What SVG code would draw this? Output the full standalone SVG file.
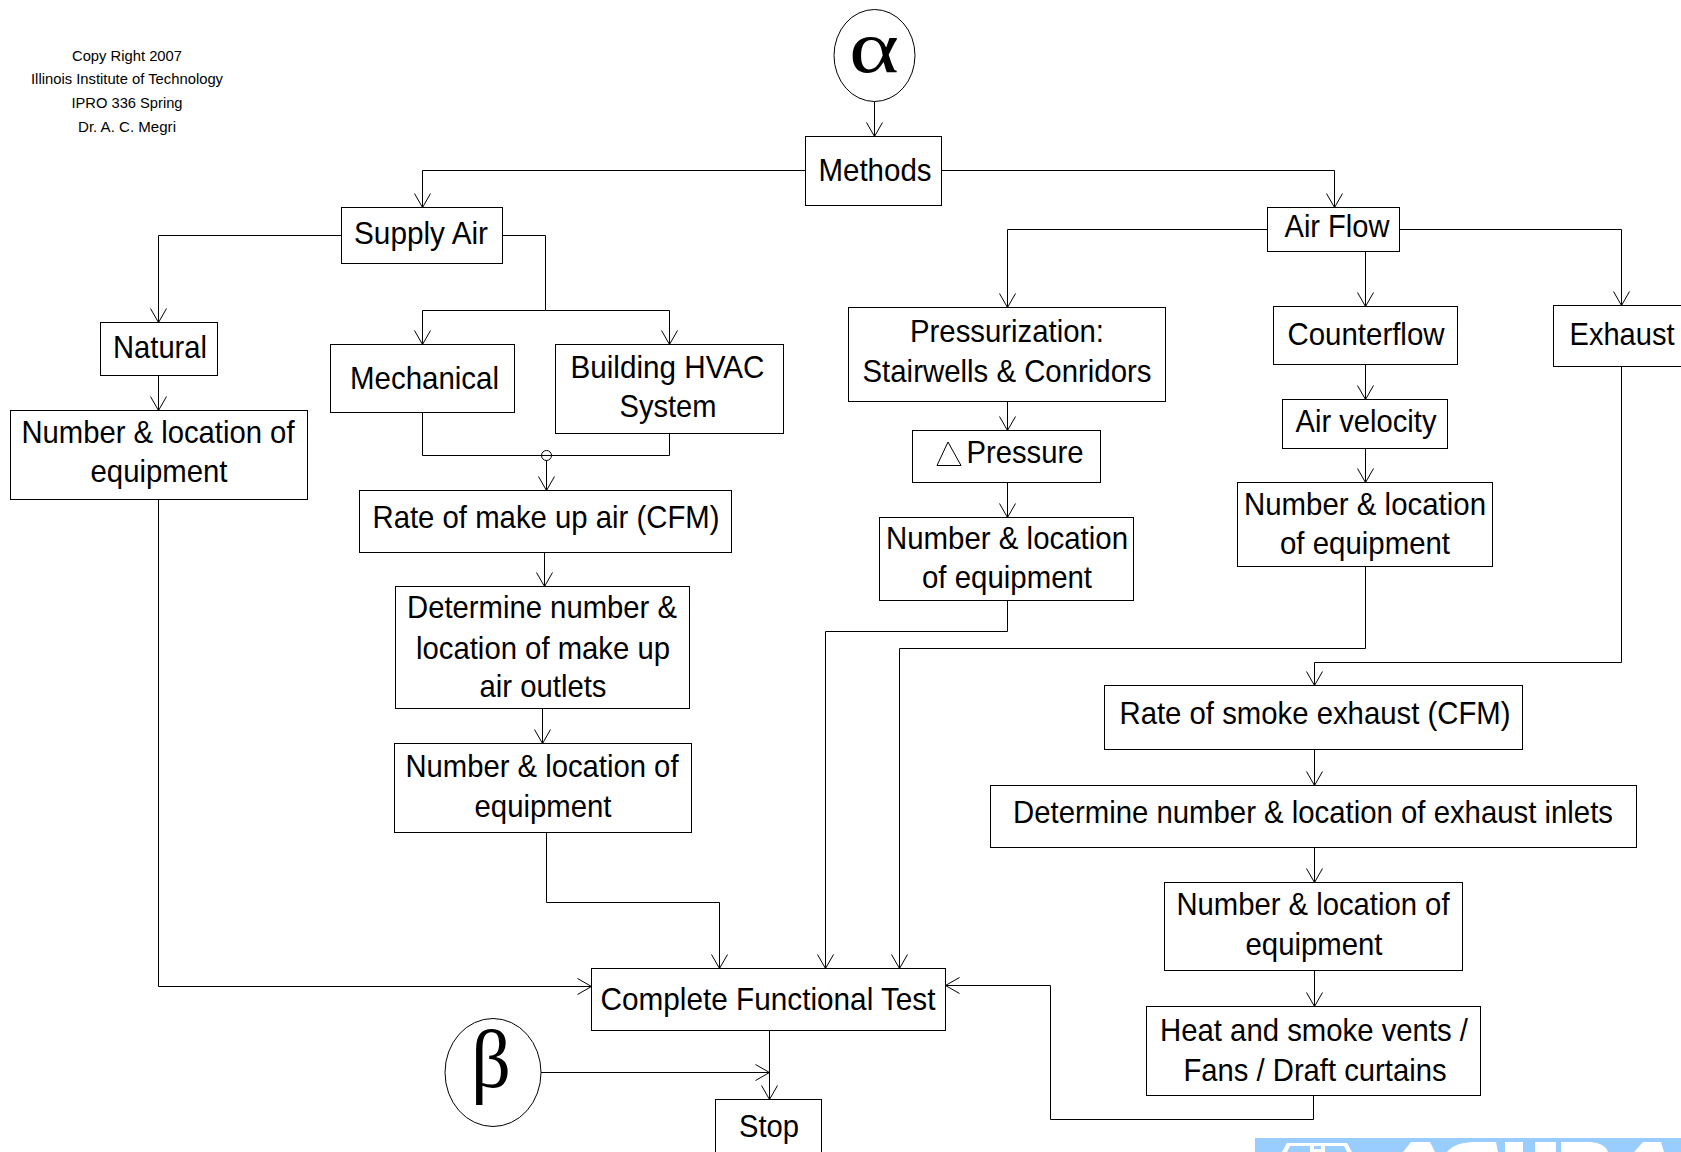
<svg xmlns="http://www.w3.org/2000/svg" width="1681" height="1152" viewBox="0 0 1681 1152">
<style>
.b{fill:#fff;stroke:#000;stroke-width:1;transform:translate(-.5px,.5px)}
.t{font-family:"Liberation Sans",Arial,sans-serif;font-size:32px;fill:#000;text-anchor:middle}
.s{font-family:"Liberation Sans",Arial,sans-serif;font-size:15px;fill:#000;text-anchor:middle}
.g{font-family:"Liberation Serif","DejaVu Serif",serif;fill:#000;text-anchor:middle}
.w{fill:#fff}
#connectors{transform:translate(-.5px,.5px)}
#connectors path{fill:none;stroke:#000;stroke-width:1;marker-end:url(#a)}
#connectors path.n{marker-end:none}
</style>
<defs>
<marker id="a" markerUnits="userSpaceOnUse" markerWidth="20" markerHeight="20" refX="15" refY="10" orient="auto"><path d="M1 2 L15 10 L1 18" fill="none" stroke="#000" stroke-width="1"/></marker>
</defs>
<rect width="1681" height="1152" fill="#fff"/>
<g id="logo"><rect x="1255" y="1138" width="426" height="14" fill="#99ccff"/>
<path d="M1282 1152L1287 1143H1347L1352 1152H1347L1344 1146H1290L1287 1152Z" class="w"/>
<path d="M1310 1152V1146H1314V1149H1321V1146H1325V1152Z" class="w"/>
<path d="M1403 1152L1411 1142H1430L1435 1152Z" class="w"/>
<path d="M1447 1152Q1455 1142 1475 1142H1496L1498 1152Z" class="w"/>
<rect x="1505" y="1142" width="18" height="10" class="w"/>
<rect x="1535" y="1142" width="21" height="10" class="w"/>
<path d="M1561 1152V1142H1590Q1605 1143 1608 1152Z" class="w"/>
<path d="M1634 1152L1643 1142H1661L1664 1152Z" class="w"/>
</g>
<g id="connectors">
<path d="M875 101V136"/>
<path d="M806 170H423V207"/>
<path d="M942 170H1335V207"/>
<path d="M342 235H159V322"/>
<path class="n" d="M503 235H546V310"/>
<path d="M546 310H423V344"/>
<path d="M546 310H670V344"/>
<path d="M159 375V410"/>
<path class="n" d="M423 412V455H670V433"/>
<path d="M547 460V490"/>
<path d="M545 552V586"/>
<path d="M543 708V743"/>
<path d="M547 832V902H720V968"/>
<path d="M159 499V986H592"/>
<path d="M1268 229H1008V307"/>
<path d="M1366 251V306"/>
<path d="M1400 229H1622V305"/>
<path d="M1008 401V430"/>
<path d="M1008 482V517"/>
<path d="M1008 600V631H826V968"/>
<path d="M1366 364V399"/>
<path d="M1366 448V482"/>
<path d="M1366 566V648H900V968"/>
<path d="M1622 366V662H1315V685"/>
<path d="M1315 749V785"/>
<path d="M1315 847V882"/>
<path d="M1315 970V1006"/>
<path d="M1314 1095V1119H1051V985H946"/>
<path d="M770 1030V1099"/>
<path d="M541 1072H770"/>
</g>
<g id="junction"><circle class="b" cx="547" cy="455" r="5" style="fill:none"/></g>
<g id="copyright">
<text class="s" x="127" y="61" textLength="110" lengthAdjust="spacingAndGlyphs">Copy Right 2007</text>
<text class="s" x="127" y="84" textLength="192" lengthAdjust="spacingAndGlyphs">Illinois Institute of Technology</text>
<text class="s" x="127" y="108" textLength="111" lengthAdjust="spacingAndGlyphs">IPRO 336 Spring</text>
<text class="s" x="127" y="132" textLength="98" lengthAdjust="spacingAndGlyphs">Dr. A. C. Megri</text>
</g>
<g id="alpha"><ellipse class="b" cx="875" cy="55" rx="40.5" ry="46"/><text class="g" x="874" y="72" font-size="74" textLength="50" lengthAdjust="spacingAndGlyphs">α</text></g>
<g id="beta"><ellipse class="b" cx="493.5" cy="1072" rx="48" ry="54"/><text class="g" x="491" y="1087" font-size="82" textLength="40" lengthAdjust="spacingAndGlyphs">β</text></g>
<g id="methods"><rect class="b" x="806" y="136" width="136" height="69"/><text class="t" x="875" y="181" textLength="113" lengthAdjust="spacingAndGlyphs">Methods</text></g>
<g id="supply"><rect class="b" x="342" y="207" width="161" height="56"/><text class="t" x="421" y="244" textLength="134" lengthAdjust="spacingAndGlyphs">Supply Air</text></g>
<g id="airflow"><rect class="b" x="1268" y="207" width="132" height="44"/><text class="t" x="1337" y="237" textLength="105" lengthAdjust="spacingAndGlyphs">Air Flow</text></g>
<g id="natural"><rect class="b" x="101" y="322" width="117" height="53"/><text class="t" x="160" y="358" textLength="94" lengthAdjust="spacingAndGlyphs">Natural</text></g>
<g id="numleft"><rect class="b" x="11" y="410" width="297" height="89"/><text class="t" x="158" y="443" textLength="273" lengthAdjust="spacingAndGlyphs">Number &amp; location of</text><text class="t" x="159" y="482" textLength="137" lengthAdjust="spacingAndGlyphs">equipment</text></g>
<g id="mechanical"><rect class="b" x="331" y="344" width="184" height="68"/><text class="t" x="424.5" y="389" textLength="149" lengthAdjust="spacingAndGlyphs">Mechanical</text></g>
<g id="hvac"><rect class="b" x="556" y="344" width="228" height="89"/><text class="t" x="667.5" y="378" textLength="194" lengthAdjust="spacingAndGlyphs">Building HVAC</text><text class="t" x="668" y="417" textLength="97" lengthAdjust="spacingAndGlyphs">System</text></g>
<g id="makeup"><rect class="b" x="360" y="490" width="372" height="62"/><text class="t" x="546" y="528" textLength="347" lengthAdjust="spacingAndGlyphs">Rate of make up air (CFM)</text></g>
<g id="determine"><rect class="b" x="396" y="586" width="294" height="122"/><text class="t" x="542" y="618" textLength="270" lengthAdjust="spacingAndGlyphs">Determine number &amp;</text><text class="t" x="543" y="659" textLength="254" lengthAdjust="spacingAndGlyphs">location of make up</text><text class="t" x="543" y="697" textLength="127" lengthAdjust="spacingAndGlyphs">air outlets</text></g>
<g id="numcenter"><rect class="b" x="395" y="743" width="297" height="89"/><text class="t" x="542" y="777" textLength="273" lengthAdjust="spacingAndGlyphs">Number &amp; location of</text><text class="t" x="543" y="817" textLength="137" lengthAdjust="spacingAndGlyphs">equipment</text></g>
<g id="pressurization"><rect class="b" x="849" y="307" width="317" height="94"/><text class="t" x="1007" y="342" textLength="194" lengthAdjust="spacingAndGlyphs">Pressurization:</text><text class="t" x="1007" y="382" textLength="289" lengthAdjust="spacingAndGlyphs">Stairwells &amp; Conridors</text></g>
<g id="pressure"><rect class="b" x="913" y="430" width="188" height="52"/><path d="M937 465.5L948 442L961 465.5Z" fill="none" stroke="#000"/><text class="t" x="1025" y="463" textLength="117" lengthAdjust="spacingAndGlyphs">Pressure</text></g>
<g id="numpress"><rect class="b" x="880" y="517" width="254" height="83"/><text class="t" x="1007" y="549" textLength="242" lengthAdjust="spacingAndGlyphs">Number &amp; location</text><text class="t" x="1007" y="588" textLength="170" lengthAdjust="spacingAndGlyphs">of equipment</text></g>
<g id="counterflow"><rect class="b" x="1274" y="306" width="184" height="58"/><text class="t" x="1366" y="345" textLength="157" lengthAdjust="spacingAndGlyphs">Counterflow</text></g>
<g id="velocity"><rect class="b" x="1283" y="399" width="165" height="49"/><text class="t" x="1366" y="432" textLength="141" lengthAdjust="spacingAndGlyphs">Air velocity</text></g>
<g id="numflow"><rect class="b" x="1238" y="482" width="255" height="84"/><text class="t" x="1365" y="515" textLength="242" lengthAdjust="spacingAndGlyphs">Number &amp; location</text><text class="t" x="1365" y="554" textLength="170" lengthAdjust="spacingAndGlyphs">of equipment</text></g>
<g id="exhaust"><rect class="b" x="1554" y="305" width="140" height="61"/><text class="t" x="1622" y="345" textLength="105" lengthAdjust="spacingAndGlyphs">Exhaust</text></g>
<g id="smoke"><rect class="b" x="1105" y="685" width="418" height="64"/><text class="t" x="1315" y="724" textLength="391" lengthAdjust="spacingAndGlyphs">Rate of smoke exhaust (CFM)</text></g>
<g id="inlets"><rect class="b" x="991" y="785" width="646" height="62"/><text class="t" x="1313" y="823" textLength="600" lengthAdjust="spacingAndGlyphs">Determine number &amp; location of exhaust inlets</text></g>
<g id="numright"><rect class="b" x="1165" y="882" width="298" height="88"/><text class="t" x="1313" y="915" textLength="273" lengthAdjust="spacingAndGlyphs">Number &amp; location of</text><text class="t" x="1314" y="955" textLength="137" lengthAdjust="spacingAndGlyphs">equipment</text></g>
<g id="vents"><rect class="b" x="1147" y="1006" width="334" height="89"/><text class="t" x="1314" y="1041" textLength="308" lengthAdjust="spacingAndGlyphs">Heat and smoke vents /</text><text class="t" x="1315" y="1081" textLength="263" lengthAdjust="spacingAndGlyphs">Fans / Draft curtains</text></g>
<g id="complete"><rect class="b" x="592" y="968" width="354" height="62"/><text class="t" x="768" y="1010" textLength="335" lengthAdjust="spacingAndGlyphs">Complete Functional Test</text></g>
<g id="stop"><rect class="b" x="716" y="1099" width="106" height="70"/><text class="t" x="769" y="1137" textLength="60" lengthAdjust="spacingAndGlyphs">Stop</text></g>
</svg>
